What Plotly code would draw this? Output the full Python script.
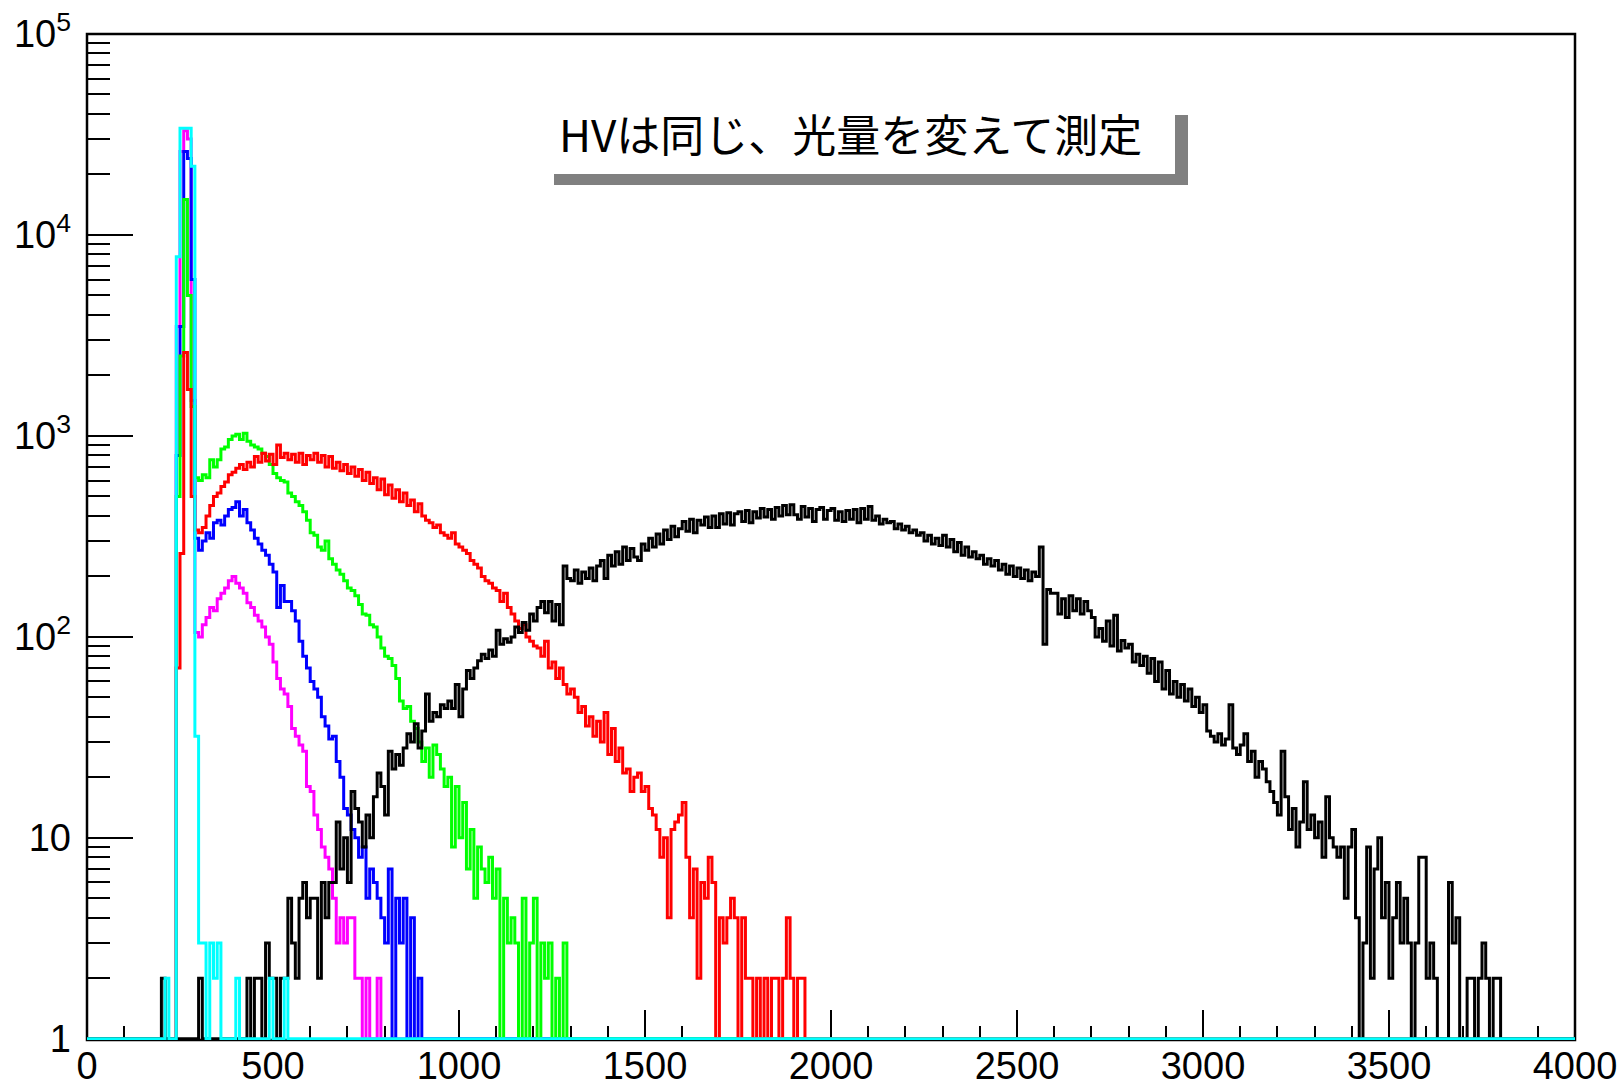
import numpy as np
import plotly.graph_objects as go

# ---------------- data (10-unit bins, counts) ----------------
BIN = 10
X_MIN, X_MAX = 0, 4000

x_tick_vals = [0, 500, 1000, 1500, 2000, 2500, 3000, 3500, 4000]
x_tick_text = ["0", "500", "1000", "1500", "2000", "2500", "3000", "3500", "4000"]
y_tick_vals = [1, 10, 100, 1000, 10000, 100000]
y_tick_text = ["1", "10", "10<sup>2</sup>", "10<sup>3</sup>", "10<sup>4</sup>", "10<sup>5</sup>"]

annotation_text = "HVは同じ、光量を変えて測定"

black_start = 200
black_counts = [
    2, 0, 0, 0, 0, 0, 0, 0, 0, 0,
    2, 0, 1, 0, 0, 0, 0, 0, 0, 0,
    0, 0, 0, 2, 1, 2, 2, 1, 3, 2,
    2, 1, 2, 2, 5, 3, 2, 5, 6, 4,
    5, 5, 2, 6, 4, 6, 6, 12, 7, 10,
    6, 17, 14, 12, 9, 13, 10, 16, 21, 18,
    13, 27, 22, 26, 23, 28, 33, 30, 37, 28,
    34, 52, 38, 42, 40, 46, 44, 48, 44, 58,
    40, 55, 68, 62, 70, 76, 82, 78, 86, 80,
    108, 92, 98, 94, 100, 112, 105, 118, 108, 130,
    120, 140, 150, 132, 150, 120, 145, 115, 225, 195,
    190, 215, 185, 210, 195, 220, 190, 225, 240, 195,
    255, 225, 265, 230, 280, 240, 275, 250, 240, 290,
    270, 310, 280, 325, 290, 340, 305, 355, 315, 345,
    375, 335, 385, 330, 380, 360, 395, 350, 400, 350,
    410, 365, 415, 360, 410, 420, 375, 425, 370, 420,
    390, 435, 395, 430, 385, 440, 400, 450, 405, 455,
    405, 385, 445, 395, 435, 375, 430, 440, 385, 425,
    435, 380, 420, 375, 425, 385, 430, 370, 435, 385,
    445, 380, 400, 365, 385, 370, 375, 345, 365, 340,
    355, 330, 340, 320, 330, 300, 320, 290, 310, 285,
    320, 280, 305, 265, 295, 255, 280, 250, 265, 245,
    255, 230, 245, 225, 240, 215, 230, 205, 225, 200,
    220, 195, 215, 190, 210, 200, 280, 92, 172, 165,
    165, 130, 155, 125, 160, 135, 155, 130, 150, 135,
    125, 100, 110, 95, 120, 90, 128, 85, 96, 88,
    92, 75, 82, 72, 80, 66, 78, 60, 75, 55,
    68, 52, 60, 50, 58, 48, 55, 45, 50, 42,
    46, 34, 32, 30, 33, 29, 31, 46, 28, 26,
    29, 33, 24, 27, 20, 24, 22, 19, 17, 15,
    13, 27, 16, 11, 14, 9, 12, 19, 11, 13,
    10, 12, 8, 16, 10, 9, 8, 9, 5, 9,
    11, 4, 1, 3, 9, 2, 7, 10, 4, 6,
    2, 4, 6, 3, 5, 3, 1, 3, 8, 8,
    2, 3, 2, 0, 1, 0, 6, 3, 4, 0,
    0, 2, 2, 1, 2, 3, 2, 1, 2, 2,
]

red_start = 240
red_counts = [
    70, 260, 2600, 1700, 500, 340,
    330, 350, 400, 450, 500, 520, 560, 590, 640, 660,
    690, 720, 680, 740, 700, 790, 740, 820, 750, 810,
    720, 900, 780, 820, 760, 810, 740, 820, 720, 800,
    760, 820, 740, 800, 700, 790, 690, 740, 670, 720,
    650, 700, 630, 680, 600, 660, 580, 620, 540, 610,
    510, 570, 490, 540, 470, 520, 450, 480, 420, 460,
    400, 380, 370, 350, 360, 330, 320, 310, 330, 290,
    280, 270, 260, 240, 230, 220, 200, 190, 185, 175,
    170, 150, 165, 140, 130, 120, 110, 115, 100, 95,
    90, 88, 80, 95, 70, 75, 62, 70, 58, 52,
    55, 50, 42, 45, 36, 40, 32, 38, 30, 42,
    26, 35, 24, 28, 21, 22, 17, 20, 21, 17,
    18, 14, 13, 11, 8, 10, 4, 11, 12, 13,
    15, 8, 4, 7, 2, 6, 5, 8, 6, 1,
    4, 3, 4, 5, 4, 1, 4, 2, 2, 1,
    2, 1, 2, 1, 2, 2, 1, 2, 4, 2,
    1, 2, 2,
]

green_start = 240
green_counts = [
    500, 2500, 15000, 5000, 1400, 620,
    600, 640, 620, 760, 700, 760, 860, 880, 960, 1000,
    1020, 960, 1030, 940, 900, 880, 860, 820, 790, 720,
    650, 620, 600, 590, 520, 500, 470, 450, 420, 380,
    330, 320, 280, 270, 300, 245, 230, 215, 205, 190,
    175, 170, 160, 145, 130, 128, 115, 112, 100, 88,
    80, 78, 72, 62, 48, 44, 45, 38, 35, 30,
    24, 28, 20, 29, 26, 22, 18, 20, 9, 18,
    10, 15, 7, 11, 5, 9, 7, 6, 8, 5,
    7, 1, 5, 3, 4, 3, 1, 5, 1, 3,
    5, 1, 3, 2, 3, 1, 2, 0, 3,
]

blue_start = 240
blue_counts = [
    800, 3500, 26000, 24000, 6000, 310,
    270, 300, 330, 310, 370, 380, 360, 400, 430, 440,
    470, 400, 430, 370, 340, 310, 290, 270, 255, 230,
    210, 140, 180, 150, 150, 135, 120, 95, 80, 70,
    60, 55, 50, 40, 36, 31, 32, 24, 20, 14,
    13, 11, 10, 8, 9, 5, 7, 6, 5, 4,
    3, 7, 1, 5, 3, 5, 0, 4, 0, 2,
]

magenta_start = 240
magenta_counts = [
    3500, 26000, 33000, 30000, 1500, 105,
    100, 115, 125, 140, 135, 155, 165, 175, 190, 200,
    185, 175, 165, 148, 140, 128, 120, 112, 100, 92,
    75, 62, 55, 52, 45, 35, 32, 29, 27, 18,
    17, 13, 11, 9, 8, 7, 5, 3, 4, 3,
    4, 4, 2, 2, 1, 2, 1, 0, 2, 0,
]

cyan_start = 200
cyan_counts = [
    0, 2, 0, 0, 7800, 34000, 34000, 34000, 22000, 32,
    3, 3, 0, 3, 2, 3, 0, 0, 0, 0,
    2, 0, 0, 0, 0, 0, 0, 0, 0, 2,
    0, 0, 0, 2,
]

# ---------------- figure ----------------
FIG_W, FIG_H = 1623, 1088
L, R, T, B = 87, 48, 34, 48
PW, PH = FIG_W - L - R, FIG_H - T - B


def px_x(p):
    return (p - L) / PW


def px_y(p):
    return (FIG_H - B - p) / PH


def step_xy(start, counts):
    n_total = (X_MAX - X_MIN) // BIN
    full = np.zeros(n_total)
    i0 = (start - X_MIN) // BIN
    full[i0:i0 + len(counts)] = counts
    y = np.maximum(full, 1)  # empty bins sit on the axis floor, as in the original
    edges = X_MIN + BIN * np.arange(n_total + 1)
    return edges, np.append(y, y[-1])


series = [
    ("magenta", magenta_start, magenta_counts, "#ff00ff"),
    ("blue", blue_start, blue_counts, "#0000ff"),
    ("green", green_start, green_counts, "#00ff00"),
    ("red", red_start, red_counts, "#ff0000"),
    ("black", black_start, black_counts, "#000000"),
    ("cyan", cyan_start, cyan_counts, "#00ffff"),
]

fig = go.Figure()
for name, start, counts, color in series:
    xs, ys = step_xy(start, counts)
    fig.add_trace(go.Scatter(
        x=xs, y=ys, mode="lines", name=name,
        line=dict(color=color, width=3, shape="hv"),
        hoverinfo="skip", showlegend=False,
    ))

minor_y = [m * 10 ** d for d in range(0, 5) for m in range(2, 10)]

tick_font = dict(family="Liberation Sans, Arial, Helvetica, sans-serif",
                 size=38, color="black")

fig.update_layout(
    width=FIG_W, height=FIG_H,
    margin=dict(l=L, r=R, t=T, b=B, pad=0),
    paper_bgcolor="white", plot_bgcolor="white",
    showlegend=False,
    xaxis=dict(
        range=[X_MIN, X_MAX], showgrid=False, zeroline=False, showline=False,
        automargin=False, layer="below traces",
        tickmode="array", tickvals=x_tick_vals, ticktext=x_tick_text,
        ticks="inside", ticklen=30, tickwidth=2, tickcolor="black",
        tickfont=tick_font, ticklabelstandoff=0,
        minor=dict(ticks="inside", ticklen=14, tickwidth=2, tickcolor="black",
                   tickmode="linear", tick0=0, dtick=100, showgrid=False),
    ),
    yaxis=dict(
        type="log", range=[-0.006, 5], showgrid=False, zeroline=False, showline=False,
        automargin=False, layer="below traces",
        tickmode="array", tickvals=y_tick_vals, ticktext=y_tick_text,
        ticks="inside", ticklen=46, tickwidth=2, tickcolor="black",
        tickfont=tick_font, ticklabelstandoff=15,
        minor=dict(ticks="inside", ticklen=23, tickwidth=2, tickcolor="black",
                   tickmode="array", tickvals=minor_y, showgrid=False),
    ),
    shapes=[
        # frame (below traces so the cyan floor line covers its bottom edge)
        dict(type="rect", xref="paper", yref="paper", x0=0, x1=1, y0=0, y1=1,
             line=dict(color="black", width=2.5), fillcolor="rgba(0,0,0,0)", layer="below"),
        # text box shadow
        dict(type="rect", xref="paper", yref="paper",
             x0=px_x(554), x1=px_x(1188), y0=px_y(185), y1=px_y(174),
             line=dict(width=0), fillcolor="#808080", layer="above"),
        dict(type="rect", xref="paper", yref="paper",
             x0=px_x(1175), x1=px_x(1188), y0=px_y(185), y1=px_y(115),
             line=dict(width=0), fillcolor="#808080", layer="above"),
        # text box
        dict(type="rect", xref="paper", yref="paper",
             x0=px_x(554), x1=px_x(1175), y0=px_y(174), y1=px_y(98),
             line=dict(width=0), fillcolor="white", layer="above"),
    ],
    annotations=[
        dict(text=annotation_text, xref="paper", yref="paper",
             x=px_x(557), y=px_y(133), xanchor="left", yanchor="middle",
             showarrow=False,
             font=dict(family="Noto Sans CJK JP, sans-serif", size=44, color="black")),
    ],
)

fig.write_html("out.html")
